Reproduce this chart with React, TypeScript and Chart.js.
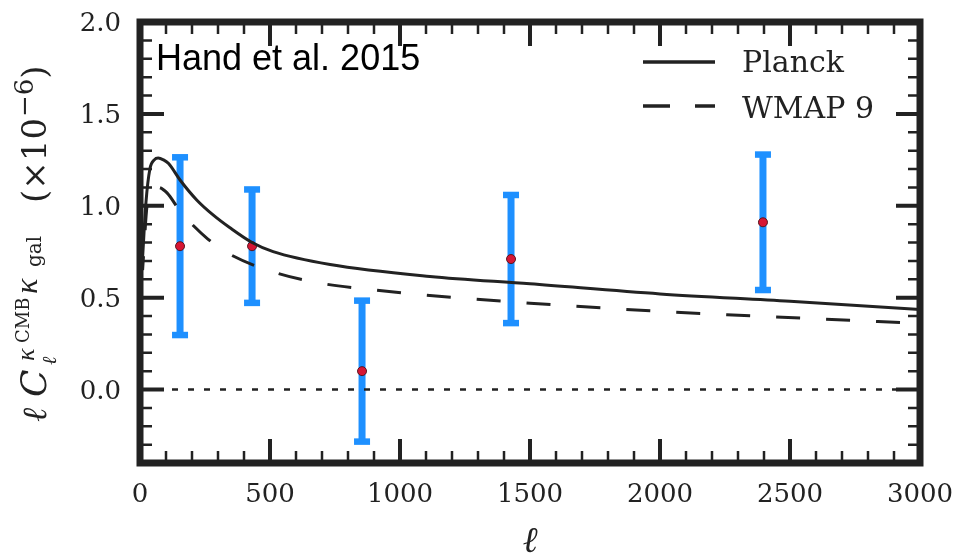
import { useEffect, useRef } from "react";
import { Chart, registerables } from "chart.js";

Chart.register(...registerables);

// ---- data ----
const planckEll = [10, 23, 38, 55, 70, 90, 110, 154, 219, 281, 346, 431, 512, 731, 1115, 1500, 2000, 2500, 3000];
const planckVal = [0.72, 1.02, 1.2, 1.25, 1.26, 1.25, 1.23, 1.14, 1.03, 0.95, 0.88, 0.8, 0.75, 0.68, 0.615, 0.575, 0.52, 0.48, 0.435];

const wmapEll = [10, 27, 45, 69, 104, 154, 195, 260, 335, 516, 705, 900, 1080, 1500, 2000, 2257, 2838, 3000];
const wmapVal = [0.65, 1.0, 1.08, 1.1, 1.07, 0.97, 0.906, 0.82, 0.744, 0.638, 0.576, 0.542, 0.516, 0.47, 0.425, 0.407, 0.37, 0.36];

const handEll = [154, 431, 854, 1427, 2396];
const handVal = [0.78, 0.78, 0.1, 0.71, 0.91];
const handErr = [0.485, 0.31, 0.385, 0.35, 0.37];

const seriesLabels = ["Planck", "WMAP 9"];
const annotationText = "Hand et al. 2015";

const SERIF = '"DejaVu Serif", serif';
const TIMES = '"Liberation Serif", serif';
const INK = "#222222";
const BAR = "rgb(30,144,255)";

function isMajor(v: number, step: number) {
  const r = v / step;
  return Math.abs(r - Math.round(r)) < 1e-6;
}

const plotPlugin = {
  id: "plotDecor",
  beforeDatasetDraw(chart: any, args: any) {
    if (args.index !== 3) return;
    const ctx = chart.ctx;
    const xs = chart.scales.x;
    const ys = chart.scales.y;
    ctx.save();
    ctx.fillStyle = BAR;
    handEll.forEach((l, i) => {
      const px = xs.getPixelForValue(l);
      const top = ys.getPixelForValue(handVal[i] + handErr[i]);
      const bot = ys.getPixelForValue(handVal[i] - handErr[i]);
      ctx.fillRect(px - 3.5, top, 7, bot - top);
      ctx.fillRect(px - 8, top - 3, 16, 6.5);
      ctx.fillRect(px - 8, bot - 3.5, 16, 6.5);
    });
    ctx.restore();
  },
  afterDraw(chart: any) {
    const ctx = chart.ctx;
    const a = chart.chartArea;
    const xs = chart.scales.x;
    const ys = chart.scales.y;
    ctx.save();
    ctx.strokeStyle = INK;
    ctx.fillStyle = INK;
    ctx.lineCap = "butt";
    ctx.font = `26px ${SERIF}`;
    ctx.textBaseline = "alphabetic";
    // ticks on all four sides + labels
    xs.ticks.forEach((t: any) => {
      const px = xs.getPixelForValue(t.value);
      const maj = isMajor(t.value, 500);
      const len = maj ? 24 : 12;
      ctx.lineWidth = maj ? 4 : 2.5;
      ctx.beginPath();
      ctx.moveTo(px, a.bottom);
      ctx.lineTo(px, a.bottom - len);
      ctx.moveTo(px, a.top);
      ctx.lineTo(px, a.top + len);
      ctx.stroke();
      if (maj) {
        ctx.textAlign = "center";
        ctx.fillText(String(Math.round(t.value)), px, a.bottom + 39);
      }
    });
    ys.ticks.forEach((t: any) => {
      const py = ys.getPixelForValue(t.value);
      const maj = isMajor(t.value, 0.5);
      const len = maj ? 24 : 12;
      ctx.lineWidth = maj ? 4 : 2.5;
      ctx.beginPath();
      ctx.moveTo(a.left, py);
      ctx.lineTo(a.left + len, py);
      ctx.moveTo(a.right, py);
      ctx.lineTo(a.right - len, py);
      ctx.stroke();
      if (maj) {
        ctx.textAlign = "right";
        ctx.fillText(Math.abs(t.value).toFixed(1), a.left - 19, py + 9);
      }
    });
    // frame
    ctx.lineWidth = 7;
    ctx.lineJoin = "miter";
    ctx.strokeRect(a.left, a.top, a.right - a.left, a.bottom - a.top);

    // legend
    ctx.lineWidth = 3.5;
    ctx.beginPath();
    ctx.moveTo(643, 62);
    ctx.lineTo(715, 62);
    ctx.stroke();
    ctx.setLineDash([27, 25]);
    ctx.beginPath();
    ctx.moveTo(643, 106);
    ctx.lineTo(715, 106);
    ctx.stroke();
    ctx.setLineDash([]);
    ctx.font = `30px ${SERIF}`;
    ctx.textAlign = "left";
    ctx.fillText(chart.data.datasets[0].label, 742, 72);
    ctx.fillText(chart.data.datasets[1].label, 742, 118);

    // annotation
    ctx.fillStyle = "#000";
    ctx.font = '36px "Liberation Sans", Arial, sans-serif';
    ctx.fillText(annotationText, 156, 70);

    // x title
    ctx.fillStyle = INK;
    ctx.font = `italic 36px ${SERIF}`;
    ctx.textAlign = "center";
    ctx.fillText("ℓ", (a.left + a.right) / 2, 552);

    // y title (rotated)
    ctx.translate(46, 422);
    ctx.rotate(-Math.PI / 2);
    ctx.textAlign = "left";
    const piece = (txt: string, font: string, x: number, dy: number) => {
      ctx.font = font;
      ctx.fillText(txt, x, dy);
      return x + ctx.measureText(txt).width;
    };
    piece("ℓ", `italic 34px ${SERIF}`, 0, 0);
    piece("C", `italic 36px ${SERIF}`, 25, 0);
    piece("ℓ", `italic 20px ${SERIF}`, 57, 10);
    piece("κ", `italic 26px ${TIMES}`, 61, -12);
    piece("CMB", `18px ${SERIF}`, 79, -17);
    piece("κ", `italic 32px ${TIMES}`, 128, -9);
    piece("gal", `20px ${SERIF}`, 155, -5);
    let x = piece("(×10", `34px ${SERIF}`, 219, 0);
    x = piece("−6", `26px ${SERIF}`, x + 1, -13);
    piece(")", `34px ${SERIF}`, x, 0);
    ctx.restore();
  },
};

export default function App() {
  const ref = useRef<HTMLCanvasElement>(null);
  useEffect(() => {
    const chart = new Chart(ref.current as HTMLCanvasElement, {
      type: "scatter",
      data: {
        datasets: [
          {
            label: seriesLabels[0],
            data: planckEll.map((x, i) => ({ x, y: planckVal[i] })),
            showLine: true,
            borderColor: INK,
            borderWidth: 3,
            pointRadius: 0,
            cubicInterpolationMode: "monotone",
          } as any,
          {
            label: seriesLabels[1],
            data: wmapEll.map((x, i) => ({ x, y: wmapVal[i] })),
            showLine: true,
            borderColor: INK,
            borderWidth: 3,
            borderDash: [24, 26],
            borderDashOffset: 10,
            pointRadius: 0,
            cubicInterpolationMode: "monotone",
          } as any,
          {
            label: "zero",
            data: [
              { x: 0, y: 0 },
              { x: 3000, y: 0 },
            ],
            showLine: true,
            borderColor: INK,
            borderWidth: 2.5,
            borderDash: [6, 10],
            pointRadius: 0,
          } as any,
          {
            label: annotationText,
            data: handEll.map((x, i) => ({ x, y: handVal[i] })),
            pointRadius: 4.5,
            backgroundColor: "rgb(214,22,52)",
            borderColor: "rgb(90,20,30)",
            borderWidth: 1,
          } as any,
        ],
      },
      options: {
        animation: false,
        responsive: false,
        devicePixelRatio: 1,
        layout: { padding: { top: 22, right: 37, left: 0, bottom: 0 } },
        plugins: { legend: { display: false }, tooltip: { enabled: false } },
        scales: {
          x: {
            type: "linear",
            min: 0,
            max: 3000,
            grid: { display: false, drawTicks: false },
            border: { display: false },
            ticks: { stepSize: 100, autoSkip: false, display: false, maxRotation: 0 },
            afterFit: (s: any) => {
              s.height = 94;
            },
          },
          y: {
            type: "linear",
            min: -0.4,
            max: 2.0,
            grid: { display: false, drawTicks: false },
            border: { display: false },
            ticks: { stepSize: 0.1, autoSkip: false, display: false },
            afterFit: (s: any) => {
              s.width = 140;
            },
          },
        },
      } as any,
      plugins: [plotPlugin],
    });
    return () => chart.destroy();
  }, []);
  return (
    <div style={{ position: "fixed", left: 0, top: 0, width: 957, height: 557, background: "#fff" }}>
      <canvas ref={ref} width={957} height={557} style={{ display: "block" }} />
    </div>
  );
}
